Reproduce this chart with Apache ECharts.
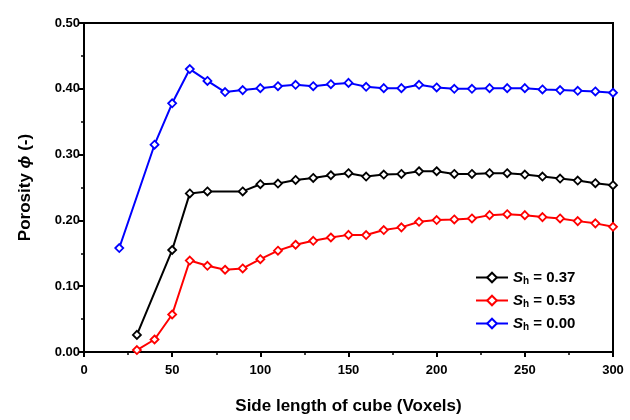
<!DOCTYPE html>
<html>
<head>
<meta charset="utf-8">
<script src="https://cdn.jsdelivr.net/npm/echarts@6/dist/echarts.min.js"></script>
<style>
  html, body { margin: 0; padding: 0; background: #fff; }
  #main { width: 630px; height: 420px; }
</style>
</head>
<body>
<div id="main"></div>
<script>
// side length of cube (voxels) and porosity
var xBlack = [30, 50, 60, 70, 90, 100, 110, 120, 130, 140, 150, 160, 170, 180, 190, 200, 210, 220, 230, 240, 250, 260, 270, 280, 290, 300];
var yBlack = [0.026, 0.155, 0.241, 0.244, 0.244, 0.255, 0.256, 0.2615, 0.2645, 0.2686, 0.2717, 0.2667, 0.2697, 0.2706, 0.2747, 0.2747, 0.2706, 0.2706, 0.2717, 0.2717, 0.2697, 0.2667, 0.2636, 0.2606, 0.2565, 0.2535];

var xRed = [30, 40, 50, 60, 70, 80, 90, 100, 110, 120, 130, 140, 150, 160, 170, 180, 190, 200, 210, 220, 230, 240, 250, 260, 270, 280, 290, 300];
var yRed = [0.003, 0.019, 0.057, 0.139, 0.131, 0.125, 0.127, 0.141, 0.154, 0.163, 0.169, 0.174, 0.178, 0.1777, 0.1853, 0.1894, 0.1979, 0.2005, 0.2015, 0.203, 0.208, 0.2095, 0.208, 0.205, 0.203, 0.1989, 0.1955, 0.1903];

var xBlue = [20, 40, 50, 60, 70, 80, 90, 100, 110, 120, 130, 140, 150, 160, 170, 180, 190, 200, 210, 220, 230, 240, 250, 260, 270, 280, 290, 300];
var yBlue = [0.158, 0.315, 0.378, 0.430, 0.412, 0.395, 0.398, 0.401, 0.404, 0.406, 0.404, 0.407, 0.409, 0.403, 0.401, 0.401, 0.406, 0.402, 0.400, 0.400, 0.401, 0.401, 0.401, 0.399, 0.398, 0.397, 0.396, 0.394];

var seriesNames = ['0.37', '0.53', '0.00'];

function zip(xs, ys) {
  var out = [];
  for (var i = 0; i < xs.length; i++) out.push([xs[i], ys[i]]);
  return out;
}

var font = 'Liberation Sans, Arial, sans-serif';

function makeSeries(name, color, xs, ys) {
  return {
    name: name,
    type: 'line',
    data: zip(xs, ys),
    symbol: 'diamond',
    symbolSize: 8,
    color: color,
    lineStyle: { color: color, width: 2 },
    itemStyle: { color: '#fff', borderColor: color, borderWidth: 1.8 },
    emphasis: { disabled: true },
    animation: false
  };
}

var myChart = echarts.init(document.getElementById('main'));
myChart.setOption({
  animation: false,
  grid: {
    left: 84, right: 17, top: 23, bottom: 67,
    show: true, borderColor: '#000', borderWidth: 2, backgroundColor: 'transparent'
  },
  legend: {
    orient: 'vertical',
    left: 470,
    top: 265,
    itemWidth: 32,
    itemHeight: 12,
    itemGap: 7,
    data: seriesNames,
    formatter: function (n) { return '{i|S}{s|h}{n| = ' + n + '}'; },
    textStyle: {
      fontFamily: font,
      rich: {
        i: { fontSize: 15, fontWeight: 'bold', fontStyle: 'italic', color: '#000', fontFamily: font },
        s: { fontSize: 10, fontWeight: 'bold', color: '#000', fontFamily: font, padding: [7, 0, 0, 0] },
        n: { fontSize: 15, fontWeight: 'bold', color: '#000', fontFamily: font }
      }
    }
  },
  xAxis: {
    type: 'value',
    min: 0, max: 300, interval: 50,
    name: 'Side length of cube (Voxels)',
    nameLocation: 'middle',
    nameGap: 46,
    nameTextStyle: { fontSize: 17, fontWeight: 'bold', color: '#000', fontFamily: font },
    axisLine: { show: true, lineStyle: { color: '#000', width: 2 } },
    axisTick: { show: true, length: 5, lineStyle: { color: '#000', width: 2 } },
    minorTick: { show: true, splitNumber: 2, length: 3, lineStyle: { color: '#000', width: 1.5 } },
    axisLabel: { fontSize: 13, fontWeight: 'bold', color: '#000', fontFamily: font, margin: 12 },
    splitLine: { show: false }
  },
  yAxis: {
    type: 'value',
    min: 0, max: 0.5, interval: 0.1,
    name: '{a|Porosity }{b|ϕ}{a| (-)}',
    nameLocation: 'middle',
    nameGap: 50,
    nameTextStyle: {
      rich: {
        a: { fontSize: 17, fontWeight: 'bold', color: '#000', fontFamily: font },
        b: { fontSize: 17, fontWeight: 'bold', fontStyle: 'italic', color: '#000', fontFamily: font }
      }
    },
    axisLine: { show: true, lineStyle: { color: '#000', width: 2 } },
    axisTick: { show: true, length: 5, lineStyle: { color: '#000', width: 2 } },
    minorTick: { show: true, splitNumber: 2, length: 3, lineStyle: { color: '#000', width: 1.5 } },
    axisLabel: {
      fontSize: 13, fontWeight: 'bold', color: '#000', fontFamily: font, margin: 4,
      formatter: function (v) { return v.toFixed(2); }
    },
    splitLine: { show: false }
  },
  series: [
    makeSeries(seriesNames[0], '#000000', xBlack, yBlack),
    makeSeries(seriesNames[1], '#ff0000', xRed, yRed),
    makeSeries(seriesNames[2], '#0000ff', xBlue, yBlue)
  ]
});
window.onresize = function () {
  myChart.resize();
};
</script>
</body>
</html>
